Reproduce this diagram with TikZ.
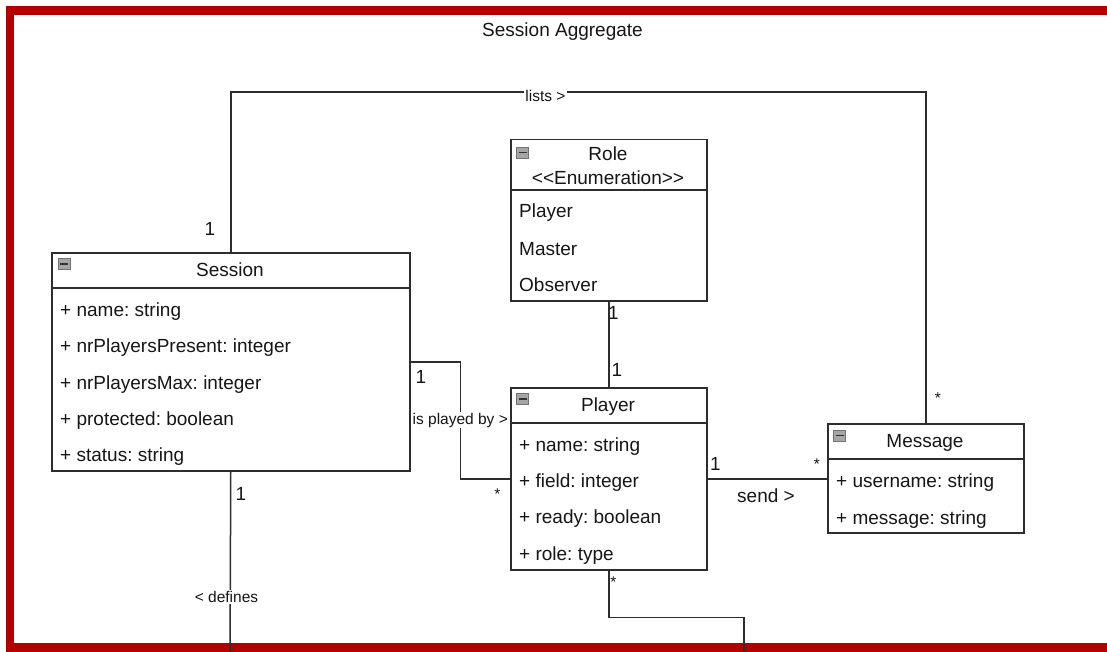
\documentclass[tikz,border=0pt]{standalone}
\usepackage{fontspec}
\setmainfont{Liberation Sans}
\usetikzlibrary{calc}
\definecolor{framered}{RGB}{178,0,0}
\definecolor{ink}{RGB}{45,45,45}
\definecolor{txt}{RGB}{22,22,22}
\frenchspacing
\tikzset{
  classbox/.style={draw=ink, line width=1.5pt, fill=white, inner sep=0pt, anchor=north west},
  divider/.style={draw=ink, line width=1.5pt},
  attr/.style={anchor=base west, inner sep=0pt, font=\fontsize{19}{22}\selectfont, text=txt},
  head/.style={anchor=base, inner sep=0pt, font=\fontsize{19}{22}\selectfont, text=txt},
  assoc/.style={draw=ink, line width=1.5pt},
  lbl/.style={font=\fontsize{15.5}{18}\selectfont, text=txt, fill=white, inner sep=1pt},
  plainlbl/.style={font=\fontsize{19}{22}\selectfont, text=txt, inner sep=0pt},
  mult/.style={font=\fontsize{19}{22}\selectfont, text=txt, inner sep=0pt},
  star/.style={font=\fontsize{15.5}{18}\selectfont, text=txt, inner sep=0pt},
  collapse/.pic={
    \draw[draw=black!55, fill=black!35, line width=0.6pt] (0,0) rectangle (12,11);
    \draw[draw=black!80, line width=1.6pt] (2,5.5) -- (10,5.5);
  }
}
\begin{document}
\begin{tikzpicture}[x=1pt,y=-1pt]
\useasboundingbox (0,0) rectangle (1107,652);
\clip (0,0) rectangle (1107,652);

% package frame
\draw[framered, line width=8.5pt] (10,10.5) rectangle (1130,647.5);
\node[head] (title) at (562.5,37) {Session Aggregate};

% classes
\node[classbox, minimum width=358pt, minimum height=218pt] (session) at (51,252) {};
\draw[divider] ($(session.north west)+(0,36)$) -- ($(session.north east)+(0,36)$);
\pic at ($(session.north west)+(7,6.5)$) {collapse};
\node[head] (sessionT) at (230,276.7) {Session};
\node[attr] (s1) at (60,316) {+ name: string};
\node[attr] (s2) at (60,352.5) {+ nrPlayersPresent: integer};
\node[attr] (s3) at (60,389) {+ nrPlayersMax: integer};
\node[attr] (s4) at (60,425) {+ protected: boolean};
\node[attr] (s5) at (60,461.5) {+ status: string};

\node[classbox, minimum width=196pt, minimum height=161pt] (role) at (510,139) {};
\draw[divider] ($(role.north west)+(0,51)$) -- ($(role.north east)+(0,51)$);
\pic at ($(role.north west)+(6.5,8)$) {collapse};
\node[head] (roleT) at (608,160.7) {Role};
\node[head] (roleS) at (608,185) {<{}<Enumeration>{}>};
\node[attr] (r1) at (519,217.7) {Player};
\node[attr] (r2) at (519,255) {Master};
\node[attr] (r3) at (519,291) {Observer};

\node[classbox, minimum width=196pt, minimum height=182pt] (player) at (510,387) {};
\draw[divider] ($(player.north west)+(0,36)$) -- ($(player.north east)+(0,36)$);
\pic at ($(player.north west)+(6.5,6.5)$) {collapse};
\node[head] (playerT) at (608,411.7) {Player};
\node[attr] (p1) at (519,451.7) {+ name: string};
\node[attr] (p2) at (519,487.7) {+ field: integer};
\node[attr] (p3) at (519,523.5) {+ ready: boolean};
\node[attr] (p4) at (519,560) {+ role: type};

\node[classbox, minimum width=196pt, minimum height=109pt] (message) at (827,423) {};
\draw[divider] ($(message.north west)+(0,36)$) -- ($(message.north east)+(0,36)$);
\pic at ($(message.north west)+(6.5,7)$) {collapse};
\node[head] (messageT) at (925,447.7) {Message};
\node[attr] (m1) at (836,487.3) {+ username: string};
\node[attr] (m2) at (836,524) {+ message: string};

% associations
\draw[assoc] (session.north) -- ++(0,-160) -| (message.north);
\node[lbl] (listsL) at (545.5,96) {lists >};
\node[mult] (listsA) at (210,229) {1};
\node[star] (listsB) at (938,398) {*};

\coordinate (mid) at ($(session.east)!0.5!(player.west)$);
\draw[assoc] (session.east) -| (mid) |- (player.west);
\node[lbl] (playedL) at (mid) {is played by >};
\node[mult] (playedA) at (421,377) {1};
\node[star] (playedB) at (497.5,494) {*};

\draw[assoc] (role.south) -- (player.north);
\node[mult] (roleA) at (613.5,313) {1};
\node[mult] (roleB) at (617,370) {1};

\draw[assoc] (player.east) -- (player.east -| message.west);
\node[plainlbl] (sendL) at (766,496) {send >};
\node[mult] (sendA) at (715.5,463.5) {1};
\node[star] (sendB) at (817,464) {*};

\coordinate (defEnd) at (230,660);
\draw[assoc] (session.south) -- (defEnd);
\node[lbl] (defL) at (226.5,597) {< defines};
\node[mult] (defA) at (241,494) {1};

\coordinate (pEnd) at (744,660);
\draw[assoc] (player.south) -- ++(0,47) -| (pEnd);
\node[star] (pA) at (613.5,582) {*};
\end{tikzpicture}
\end{document}
